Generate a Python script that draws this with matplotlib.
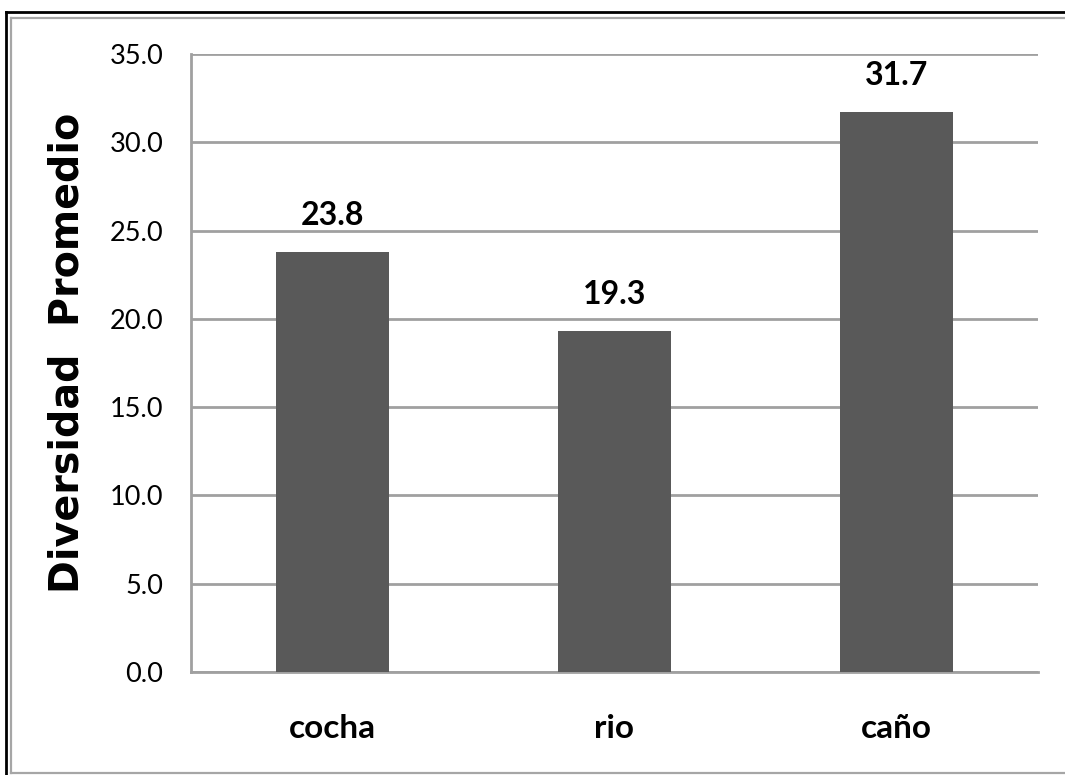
import matplotlib
matplotlib.use("Agg")
import matplotlib.pyplot as plt
from matplotlib.lines import Line2D

# Data
categories = ["cocha", "rio", "caño"]
values = [23.8, 19.3, 31.7]
y_ticks = [0, 5, 10, 15, 20, 25, 30, 35]
y_label = "Diversidad  Promedio"

W, H = 1065, 775
fig = plt.figure(figsize=(W / 100, H / 100), dpi=100)
fig.patch.set_facecolor("white")


def fx(px):
    return px / W


def fy(py):
    return 1 - py / H


# Chart frame: black outer line and gray inner line
frame = [
    ((6, 6), (12, 800), "black", 2.0),
    ((6, 1100), (12, 12), "black", 2.0),
    ((11, 11), (18, 773), "#a6a6a6", 1.6),
    ((11, 1100), (18, 18), "#a6a6a6", 1.6),
    ((11, 1100), (773, 773), "#a6a6a6", 1.6),
]
for xs, ys, c, lw in frame:
    fig.add_artist(Line2D([fx(x) for x in xs], [fy(y) for y in ys],
                          transform=fig.transFigure, color=c, lw=lw))

left, right, top, bottom = 191, 1038, 54, 672
ax = fig.add_axes([fx(left), fy(bottom), fx(right) - fx(left), fy(top) - fy(bottom)])

x = range(len(categories))
bars = ax.bar(x, values, width=0.4, color="#595959", zorder=3)

ax.set_xlim(-0.5, len(categories) - 0.5)
ax.set_ylim(0, 35)
ax.set_yticks(y_ticks)
ax.set_yticklabels([f"{v:.1f}" for v in y_ticks], fontfamily="Lato", fontsize=19.5)
ax.set_xticks(list(x))
ax.set_xticklabels(categories, fontfamily="Lato", fontweight="bold", fontsize=24)
ax.tick_params(axis="y", length=0, pad=20)
ax.tick_params(axis="x", length=0, pad=30)

ax.yaxis.grid(True, color="#a0a0a0", lw=2.0, zorder=0)
for s in ["top", "right"]:
    ax.spines[s].set_visible(False)
ax.spines["left"].set_color("#a0a0a0")
ax.spines["left"].set_linewidth(2.0)
ax.spines["bottom"].set_color("#a0a0a0")
ax.spines["bottom"].set_linewidth(2.0)

for b, v in zip(bars, values):
    ax.annotate(f"{v:.1f}", (b.get_x() + b.get_width() / 2, v),
                xytext=(0, 19.5), textcoords="offset points",
                ha="center", va="baseline", fontfamily="Lato",
                fontweight="bold", fontsize=23)

fig.text(fx(68), fy(353), y_label, rotation=90, ha="center", va="center",
         fontfamily="DejaVu Sans", fontweight="bold", fontsize=28.5)

fig.savefig("out.png", dpi=100, facecolor="white")
